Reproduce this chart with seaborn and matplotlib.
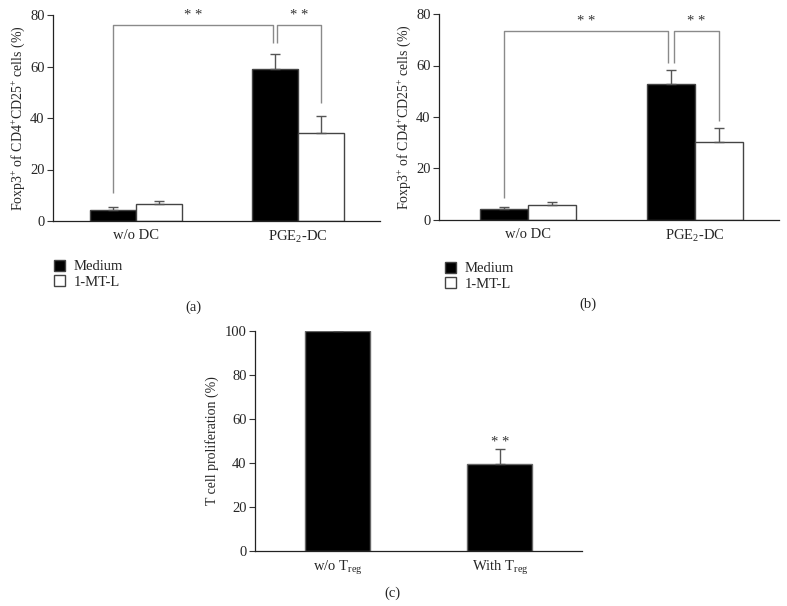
import matplotlib
matplotlib.use("Agg")
import matplotlib.pyplot as plt
import seaborn as sns
import pandas as pd
from matplotlib.patches import Patch

# ---------------- data ----------------
groups_ab = ["w/o DC", "PGE$_2$-DC"]
treatments = ["Medium", "1-MT-L"]

a_medium = [4.3, 59.0]
a_medium_err = [1.0, 5.7]
a_mtl = [6.6, 34.3]
a_mtl_err = [1.1, 6.4]

b_medium = [4.4, 53.0]
b_medium_err = [0.7, 5.1]
b_mtl = [5.8, 30.4]
b_mtl_err = [1.3, 5.5]

groups_c = ["w/o T$_{\\rm reg}$", "With T$_{\\rm reg}$"]
c_values = [100.0, 39.4]
c_err = [0.3, 6.8]

# bracket geometry (data units)
a_brackets = dict(top=76.0, left_low=11.0, mid_low=69.0, right_low=46.0)
b_brackets = dict(top=73.4, left_low=8.4, mid_low=61.1, right_low=38.6)

# ---------------- style ----------------
sns.set_theme(style="ticks")
plt.rcParams["font.family"] = ["Liberation Serif", "DejaVu Serif"]
plt.rcParams["mathtext.fontset"] = "custom"
plt.rcParams["mathtext.rm"] = "Liberation Serif"
plt.rcParams["mathtext.it"] = "Liberation Serif:italic"
plt.rcParams["mathtext.bf"] = "Liberation Serif:bold"

EDGE = "#444444"
ERR = "#555555"
BR = "#8a8a8a"

fig = plt.figure(figsize=(7.87, 6.06), dpi=100)

def style_axes(ax, ymax, step):
    sns.despine(ax=ax)
    ax.set_ylim(0, ymax)
    ax.set_yticks(list(range(0, ymax + 1, step)))
    ax.tick_params(axis="y", length=4, width=0.8, pad=2, labelsize=10.5, color="#333333")
    ax.tick_params(axis="x", length=0, pad=6, labelsize=10.5)
    for s in ("left", "bottom"):
        ax.spines[s].set_linewidth(0.9)
        ax.spines[s].set_color("#222222")
    ax.set_xlabel("")

def grouped_panel(ax, med, med_err, mtl, mtl_err, width, xlim, br, ylab):
    df = pd.DataFrame({
        "group": groups_ab * 2,
        "treatment": [treatments[0]] * 2 + [treatments[1]] * 2,
        "value": med + mtl,
    })
    sns.barplot(data=df, x="group", y="value", hue="treatment", order=groups_ab,
                hue_order=treatments, palette=["black", "white"], width=width,
                edgecolor=EDGE, linewidth=1.0, errorbar=None, legend=False, ax=ax)
    centers = []
    for cont, errs in zip(ax.containers, [med_err, mtl_err]):
        xs = [p.get_x() + p.get_width() / 2 for p in cont.patches]
        hs = [p.get_height() for p in cont.patches]
        ax.errorbar(xs, hs, yerr=[[0] * len(errs), errs], fmt="none", ecolor=ERR,
                    elinewidth=1.0, capsize=3.5, capthick=1.0, zorder=1)
        centers.append(xs)
    style_axes(ax, 80, 20)
    ax.set_xlim(*xlim)
    ax.set_ylabel(ylab, fontsize=10, labelpad=2)
    # significance brackets
    x0 = centers[0][0]
    x1 = centers[0][1] - 0.015
    x2 = centers[0][1] + 0.015
    x3 = centers[1][1]
    kw = dict(color=BR, lw=1.0, solid_capstyle="butt", clip_on=False)
    ax.plot([x0, x0, x1, x1], [br["left_low"], br["top"], br["top"], br["mid_low"]], **kw)
    ax.plot([x2, x2, x3, x3], [br["mid_low"], br["top"], br["top"], br["right_low"]], **kw)
    ax.text((x0 + x1) / 2, br["top"] + 1.2, "* *", ha="center", va="bottom", fontsize=10.5, color="#333333")
    ax.text((x2 + x3) / 2, br["top"] + 1.2, "* *", ha="center", va="bottom", fontsize=10.5, color="#333333")

ylab_ab = "Foxp3$^{+}$ of CD4$^{+}$CD25$^{+}$ cells (%)"

ax_a = fig.add_axes([53 / 787, 1 - 221 / 606, 327 / 787, 206 / 606])
grouped_panel(ax_a, a_medium, a_medium_err, a_mtl, a_mtl_err, 0.568, (-0.512, 1.506), a_brackets, ylab_ab)

ax_b = fig.add_axes([439 / 787, 1 - 220 / 606, 340 / 787, 206 / 606])
grouped_panel(ax_b, b_medium, b_medium_err, b_mtl, b_mtl_err, 0.575, (-0.533, 1.503), b_brackets, ylab_ab)

# panel c
ax_c = fig.add_axes([255 / 787, 1 - 551 / 606, 327 / 787, 220 / 606])
dfc = pd.DataFrame({"group": groups_c, "value": c_values})
sns.barplot(data=dfc, x="group", y="value", order=groups_c, color="black", width=0.4,
            edgecolor="#666666", linewidth=1.0, errorbar=None, ax=ax_c)
cxs = [p.get_x() + p.get_width() / 2 for p in ax_c.patches]
chs = [p.get_height() for p in ax_c.patches]
ax_c.errorbar(cxs, chs, yerr=[[0, 0], c_err], fmt="none", ecolor=ERR, elinewidth=1.0,
              capsize=3.5, capthick=1.0, zorder=1)
style_axes(ax_c, 100, 20)
ax_c.set_xlim(-0.508, 1.505)
ax_c.set_ylabel("T cell proliferation (%)", fontsize=10, labelpad=4)
ax_c.text(cxs[1], chs[1] + c_err[1] + 0.3, "* *", ha="center", va="bottom", fontsize=10.5, color="#333333")

# legends
handles = [Patch(facecolor="black", edgecolor=EDGE, label=treatments[0]),
           Patch(facecolor="white", edgecolor=EDGE, label=treatments[1])]
for anchor in [(54 / 787, 1 - 260 / 606), (445 / 787, 1 - 262 / 606)]:
    fig.legend(handles=handles, loc="upper left", bbox_to_anchor=anchor, frameon=False,
               fontsize=10.5, handlelength=0.75, handleheight=0.75, handletextpad=0.6,
               labelspacing=0.12, borderpad=0, borderaxespad=0)

# panel labels
fig.text(193 / 787, 1 - 307 / 606, "(a)", ha="center", va="center", fontsize=10.5)
fig.text(588 / 787, 1 - 304 / 606, "(b)", ha="center", va="center", fontsize=10.5)
fig.text(392 / 787, 1 - 593 / 606, "(c)", ha="center", va="center", fontsize=10.5)

fig.savefig("out.png", dpi=100)
